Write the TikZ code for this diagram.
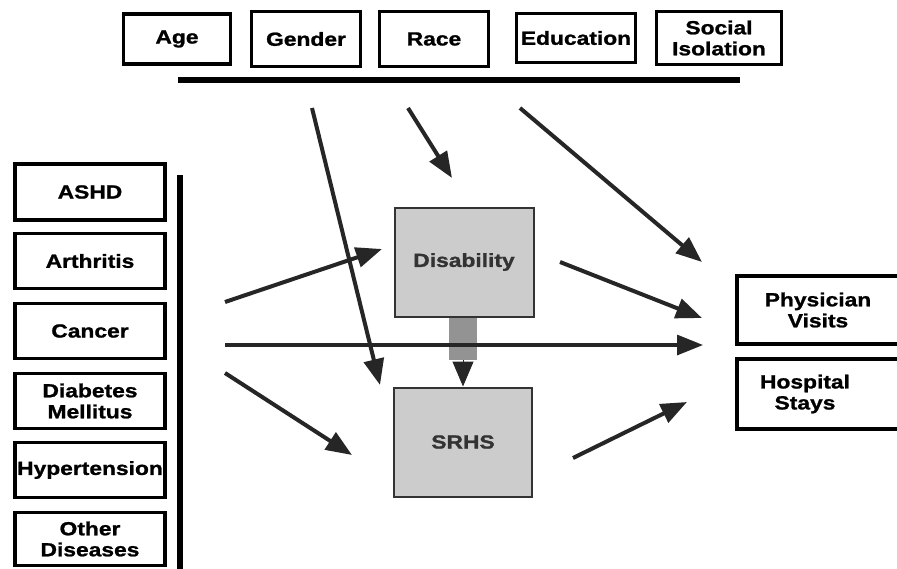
\documentclass[tikz,border=0pt]{standalone}
\usepackage{fontspec}
\setmainfont{Liberation Sans}[FakeStretch=1.2,BoldFeatures={FakeBold=1.2}]
\usetikzlibrary{arrows.meta}
\newcommand{\lbl}{\fontsize{19}{21}\selectfont\bfseries}
\begin{document}
\begin{tikzpicture}[x=1pt,y=-1pt,
  wbox/.style={draw=black, line width=3.2pt, fill=white, font=\lbl, align=center, inner sep=0pt},
  gbox/.style={draw=black!80, line width=2pt, fill=gray!40, font=\lbl, text=black!80, inner sep=0pt},
  arr/.style={line width=4pt, draw=black!85, -{Triangle[length=26pt,width=20pt]}},
  barline/.style={line width=5.5pt, draw=black},
  txt/.style={font=\lbl, align=center, inner sep=0pt}]
\clip (0,0) rectangle (897,568);
\fill[white] (0,0) rectangle (897,568);
% top boxes
\node[wbox, minimum width=107, minimum height=50] (age) at (177,39) {Age};
\node[wbox, minimum width=109, minimum height=55] (gender) at (306,39) {Gender};
\node[wbox, minimum width=109, minimum height=55] (race) at (434,39) {Race};
\node[wbox, minimum width=119, minimum height=49] (edu) at (576,38) {Education};
\node[wbox, minimum width=125, minimum height=53] (soc) at (719,38) {Social\\Isolation};
\coordinate (tb1) at (178,80);
\coordinate (tb2) at (740,80);
\draw[barline] (tb1) -- (tb2);
% left boxes
\node[wbox, minimum width=150, minimum height=56] (ashd) at (90,192) {ASHD};
\node[wbox, minimum width=150, minimum height=55] (arth) at (90,261) {Arthritis};
\node[wbox, minimum width=150, minimum height=55] (canc) at (90,331) {Cancer};
\node[wbox, minimum width=150, minimum height=55] (diab) at (90,401) {Diabetes\\Mellitus};
\node[wbox, minimum width=150, minimum height=55] (hyp) at (90,470) {Hypertension};
\node[wbox, minimum width=150, minimum height=53] (oth) at (90,539) {Other\\Diseases};
\coordinate (vb1) at (180,175);
\coordinate (vb2) at (180,570);
\draw[barline] (vb1) -- (vb2);
% centre boxes
\node[gbox, minimum width=139, minimum height=109] (dis) at (464,262) {Disability};
\node[gbox, minimum width=138, minimum height=109] (srhs) at (463,442) {SRHS};
\node[fill=gray!85, minimum width=28, minimum height=42, inner sep=0pt] (link) at (463,339) {};
\draw[line width=1pt, draw=black!85, fill=black!85, -{Triangle[length=25pt,width=21pt]}] (link.south) -- (srhs.north);
% right boxes
\node[wbox, minimum width=162, minimum height=68] (phys) at (818,310) {Physician\\Visits};
\node[wbox, minimum width=162, minimum height=70] (hosp) at (818,394) {};
\node[txt] (hospt) at (805,394) {Hospital\\Stays};
% arrows
\coordinate (g1) at (312,108); \coordinate (g2) at (380,385);
\coordinate (r1) at (408,108); \coordinate (r2) at (452,178);
\coordinate (e1) at (520,108); \coordinate (e2) at (702,262);
\coordinate (d1) at (560,262); \coordinate (d2) at (702,318);
\coordinate (l1) at (225,302); \coordinate (l2) at (382,249);
\coordinate (h1) at (225,345); \coordinate (h2) at (703,345);
\coordinate (m1) at (225,373); \coordinate (m2) at (352,455);
\coordinate (s1) at (573,458); \coordinate (s2) at (687,402);
\draw[arr] (g1) -- (g2);
\draw[arr] (r1) -- (r2);
\draw[arr] (e1) -- (e2);
\draw[arr] (d1) -- (d2);
\draw[arr] (l1) -- (l2);
\draw[arr, line width=3.2pt] (h1) -- (h2);
\draw[arr] (m1) -- (m2);
\draw[arr] (s1) -- (s2);
\end{tikzpicture}
\end{document}
